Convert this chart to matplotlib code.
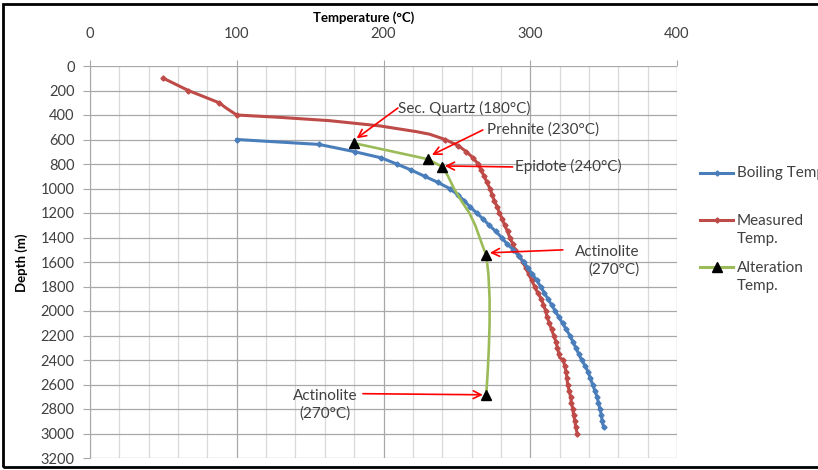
'''
Depth vs temperature profile: boiling curve, measured well temps, alteration minerals
'''

import matplotlib.pyplot as plt
from matplotlib.lines import Line2D
from matplotlib.patches import Rectangle
from matplotlib.ticker import MultipleLocator

plt.rcParams['font.family'] = ['Lato', 'DejaVu Sans']

# boiling point with depth
boil_depth = [600, 640, 700, 750, 800, 850, 900, 950, 1000, 1050, 1100, 1150, 1200,
              1250, 1300, 1350, 1400, 1450, 1500, 1550, 1600, 1650, 1700, 1750, 1800,
              1850, 1900, 1950, 2000, 2050, 2100, 2150, 2200, 2250, 2300, 2350, 2400,
              2450, 2500, 2550, 2600, 2650, 2700, 2750, 2800, 2850, 2900, 2950]
boil_temp = [100, 156, 180.5, 198.5, 209, 219, 228, 237, 245, 250.5, 255, 259, 263.5,
             268, 272, 276.5, 280.5, 284, 288.5, 292, 295.5, 298.5, 301.5, 304.5, 307,
             309.5, 312, 314.5, 317, 319.5, 322, 324.5, 327, 329, 331, 333, 335,
             337.5, 339.5, 341, 342.5, 344, 345.5, 346.5, 347.5, 348.5, 349, 350]

# measured temperature in the well
meas_depth = [100, 200, 300, 345, 400, 419, 446, 489, 536, 557, 600, 650, 700, 750, 800,
              850, 900, 950, 1000, 1050, 1100, 1150, 1200, 1250, 1300, 1350, 1400,
              1450, 1500, 1550, 1600, 1650, 1700, 1750, 1800, 1850, 1900, 1950, 2000,
              2050, 2100, 2150, 2200, 2250, 2300, 2350, 2380, 2400, 2450, 2500, 2550,
              2600, 2650, 2700, 2750, 2800, 2850, 2900, 2950, 3000]
meas_temp = [50, 67, 88, 93, 100, 129, 163, 197.5, 222.5, 231.5, 242, 251, 256.5, 261, 264.5,
             266.5, 268.5, 270.5, 272.5, 274, 275.5, 277.5, 279, 281, 282.5, 284.5, 286,
             288, 289.5, 292.5, 295, 297, 299, 301, 303, 305, 307.5, 309, 310.5,
             311.5, 313, 314.5, 316, 317.5, 318.5, 319.5, 320, 322.5, 323.5, 324.5, 325,
             325.5, 326.5, 327.5, 328, 329, 329.5, 330.5, 331, 332]
meas_marked = [100, 200, 300, 400] + list(range(600, 3001, 50))

# alteration temperature curve and mineral points
alter_depth = [630, 760, 822, 860, 900, 1000, 1100, 1200, 1300, 1400, 1500, 1540,
               1700, 1900, 2100, 2300, 2500, 2685]
alter_temp = [180, 230, 240, 242, 244, 248, 253, 258.5, 262.5, 265.5, 268.5, 270,
              271.5, 272.3, 272.3, 271.8, 271, 270]
mineral_names = ['Sec. Quartz (180°C)', 'Prehnite (230°C)', 'Epidote (240°C)',
                 'Actinolite\n(270°C)', 'Actinolite\n(270°C)']
mineral_temp = [180, 230, 240, 270, 270]
mineral_depth = [630, 760, 822, 1540, 2685]

BLUE = '#4a7ebb'
RED = '#be4b48'
GREEN = '#9bbb59'
TXT = '#404040'

fig = plt.figure(figsize=(8.18, 4.70), dpi=100)
ax = fig.add_axes([90 / 818, 1 - 458 / 470, 587 / 818, 392 / 470])

mark_idx = [i for i, d in enumerate(meas_depth) if d in meas_marked]
ax.plot(boil_temp, boil_depth, color=BLUE, lw=2.2, marker='D', ms=2.6, zorder=4)
ax.plot(meas_temp, meas_depth, color=RED, lw=2.2, marker='D', ms=2.6,
        markevery=mark_idx, zorder=3)
ax.plot(alter_temp, alter_depth, color=GREEN, lw=1.9, zorder=5)
ax.plot(mineral_temp, mineral_depth, ls='none', marker='^', ms=7.5,
        color='black', zorder=6)

ax.set_xlim(0, 400)
ax.set_ylim(3200, 0)
ax.xaxis.set_major_locator(MultipleLocator(100))
ax.xaxis.set_minor_locator(MultipleLocator(20))
ax.yaxis.set_major_locator(MultipleLocator(200))
ax.xaxis.tick_top()
ax.grid(which='major', axis='both', color='#a8a8a8', lw=0.9)
ax.grid(which='minor', axis='x', color='#d9d9d9', lw=0.9)
ax.set_axisbelow(True)
ax.tick_params(axis='x', which='major', length=4, color='#a8a8a8', pad=14,
               labelsize=10.5, labelcolor=TXT)
ax.tick_params(axis='x', which='minor', length=0)
ax.tick_params(axis='y', length=5, color='#a8a8a8', pad=6,
               labelsize=10.5, labelcolor=TXT)
for s in ax.spines.values():
    s.set_visible(False)
ax.spines['left'].set_visible(True)
ax.spines['left'].set_color('#a8a8a8')

# mineral labels with red arrows
label_xy = [(209.8, 350), (270.4, 522), (289.5, 824), (374.7, 1590), (160, 2765)]
label_ha = ['left', 'left', 'left', 'right', 'center']
arrow_tail = [(209.8, 343), (267.7, 522), (288, 824), (322.2, 1501), (186, 2675)]
arrow_head = [(181.7, 590), (233, 726), (241.8, 816), (272.5, 1525), (267.7, 2684)]
for i in range(len(mineral_names)):
    ax.text(label_xy[i][0], label_xy[i][1], mineral_names[i], ha=label_ha[i],
            va='center', fontsize=11, color=TXT, multialignment=label_ha[i],
            linespacing=1.35, zorder=7)
    ax.annotate('', xy=arrow_head[i], xytext=arrow_tail[i],
                arrowprops=dict(arrowstyle='->', color='red', lw=1.2,
                                mutation_scale=14, shrinkA=0, shrinkB=0),
                zorder=7)

fig.text(364 / 818, 1 - 18 / 470, 'Temperature (°C)', ha='center', va='center',
         fontsize=9.5, fontweight='bold')
fig.text(22 / 818, 1 - 263 / 470, 'Depth (m)', ha='center', va='center',
         rotation=90, fontsize=9.5, fontweight='bold')

# legend drawn by hand outside the plot
leg = [('Boiling Temp.', BLUE, 'D', 172.5, 172.5, 2.6),
       ('Measured\nTemp.', RED, 'D', 219.5, 230, 2.6),
       ('Alteration\nTemp.', GREEN, '^', 267, 277, 7)]
for label, col, mk, ly, ty, ms in leg:
    yf = 1 - ly / 470
    fig.add_artist(Line2D([700 / 818, 733 / 818], [yf, yf], color=col,
                          lw=2.2, transform=fig.transFigure))
    fig.add_artist(Line2D([716.5 / 818], [yf], marker=mk, ms=ms,
                          color='black' if mk == '^' else col,
                          transform=fig.transFigure))
    fig.text(737 / 818, 1 - ty / 470, label, ha='left', va='center',
             fontsize=11, color=TXT, linespacing=1.35)

# black frame round the chart
fig.add_artist(Rectangle((3 / 818, 1 - 467 / 470), 840 / 818, 463 / 470,
                         fill=False, ec='black', lw=2, transform=fig.transFigure))

plt.savefig('out.png', dpi=100)
